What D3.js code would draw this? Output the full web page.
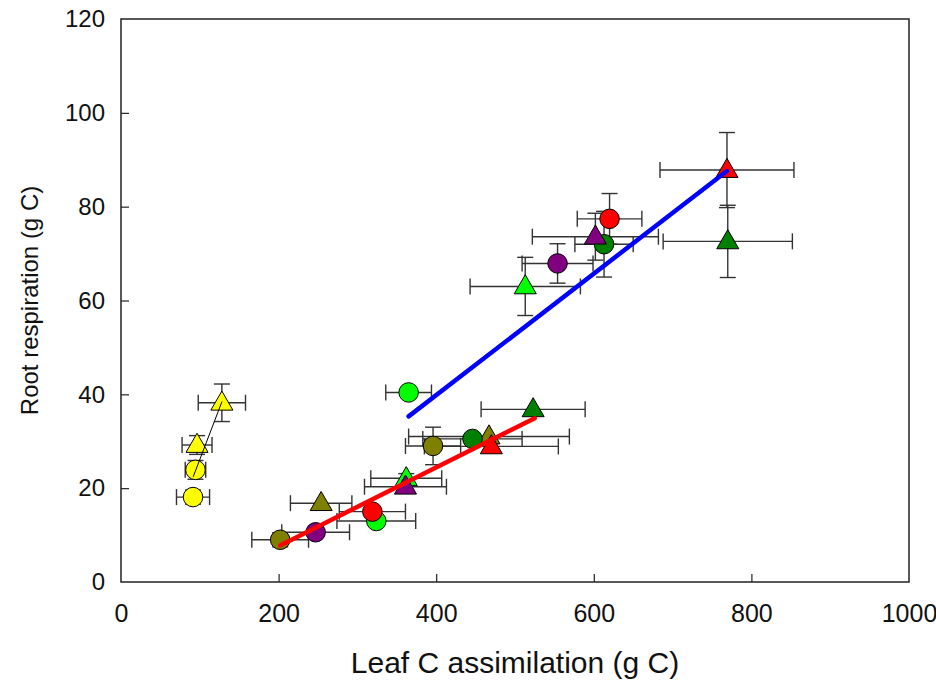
<!DOCTYPE html>
<html>
<head>
<meta charset="utf-8">
<script src="https://cdn.jsdelivr.net/npm/d3@7"></script>
<style>
  body { margin: 0; background: #fff; }
  svg { display: block; font-family: "Liberation Sans", Arial, sans-serif; }
</style>
</head>
<body>
<div class="chart-container"></div>
<script>
// series: name, colour
const seriesNames = ["yellow", "olive", "lime", "green", "purple", "red"];
const seriesColors = ["#ffff00", "#808000", "#00ff00", "#008000", "#800080", "#ff0000"];

// circles per series (x, y, x error, y error)
const circX  = [[91.4, 94.5], [202, 396], [365, 324], [446, 613], [247, 554], [319, 620]];
const circY  = [[18.1, 23.9], [9.0, 29.0], [40.4, 13.0], [30.5, 72.0], [10.6, 67.9], [15.0, 77.4]];
const circXe = [[21, 13], [36, 35], [29, 50], [63, 37], [43, 45], [42, 41]];
const circYe = [[1.5, 2], [1.5, 4], [0, 0], [0, 7], [0.5, 4.2], [0, 5.4]];

// triangles per series
const triX  = [[96.5, 128], [254, 467], [362, 513], [523, 770], [361, 602], [470, 769]];
const triY  = [[29.2, 38.2], [16.8, 31.0], [22.1, 63.0], [36.8, 72.6], [20.3, 73.6], [28.9, 87.8]];
const triXe = [[19, 30], [39, 102], [45, 70], [66, 82], [52, 80], [85, 85]];
const triYe = [[2, 4], [0, 0], [1, 6.2], [0, 7.7], [0, 5], [0, 8]];

// regression lines
const fitColors = ["#000000", "#0000ff", "#ff0000"];
const fitWidths = [1, 4.5, 4.5];
const fitX = [[91.8, 128], [365, 769], [202, 525]];
const fitY = [[22.5, 38.4], [35.3, 87.6], [7.8, 34.9]];

const xTicks = [0, 200, 400, 600, 800, 1000];
const yTicks = [0, 20, 40, 60, 80, 100, 120];

function draw() {
    const width = 936;
    const height = 683;
    const margin = { left: 121, right: 27, top: 19, bottom: 101 };

    const x = d3.scaleLinear().domain([0, 1000]).range([margin.left, width - margin.right]);
    const y = d3.scaleLinear().domain([0, 120]).range([height - margin.bottom, margin.top]);

    const svg = d3.select('.chart-container').append("svg")
        .attr("width", width)
        .attr("height", height);

    // frame
    svg.append("rect")
        .attr("x", x(0)).attr("y", y(120))
        .attr("width", x(1000) - x(0)).attr("height", y(0) - y(120))
        .attr("fill", "none").attr("stroke", "#222").attr("stroke-width", 1.5);

    const xAxis = svg.append("g")
        .attr("transform", `translate(0,${y(0)})`)
        .call(d3.axisBottom(x).tickValues(xTicks).tickFormat(d3.format("d"))
            .tickSizeInner(-8).tickSizeOuter(0).tickPadding(22));
    const yAxis = svg.append("g")
        .attr("transform", `translate(${x(0)},0)`)
        .call(d3.axisLeft(y).tickValues(yTicks).tickFormat(d3.format("d"))
            .tickSizeInner(-8).tickSizeOuter(0).tickPadding(16));
    [xAxis, yAxis].forEach(g => {
        g.select(".domain").remove();
        g.selectAll("line").attr("stroke", "#222").attr("stroke-width", 1.2);
        g.selectAll("text").attr("fill", "#111")
            .attr("font-family", "Liberation Sans, Arial, sans-serif");
    });
    xAxis.selectAll("text").attr("font-size", 25);
    yAxis.selectAll("text").attr("font-size", 24);
    // end ticks sit on the frame
    xAxis.selectAll(".tick").filter(d => d === 0 || d === 1000).select("line").remove();
    yAxis.selectAll(".tick").filter(d => d === 0 || d === 120).select("line").remove();

    svg.append("text")
        .attr("x", (x(0) + x(1000)) / 2).attr("y", 673)
        .attr("text-anchor", "middle").attr("font-size", 30).attr("fill", "#111")
        .text("Leaf C assimilation (g C)");
    svg.append("text")
        .attr("transform", `translate(38,${(y(0) + y(120)) / 2}) rotate(-90)`)
        .attr("text-anchor", "middle").attr("font-size", 24).attr("fill", "#111")
        .text("Root respiration (g C)");

    // flatten points
    const pts = [];
    seriesNames.forEach((name, i) => {
        circX[i].forEach((v, j) => pts.push({ name, color: seriesColors[i], shape: "circle",
            x: v, y: circY[i][j], xe: circXe[i][j], ye: circYe[i][j] }));
        triX[i].forEach((v, j) => pts.push({ name, color: seriesColors[i], shape: "triangle",
            x: v, y: triY[i][j], xe: triXe[i][j], ye: triYe[i][j] }));
    });

    const cap = 8;
    const err = svg.append("g").attr("stroke", "#333").attr("stroke-width", 1.4).attr("fill", "none");
    pts.forEach(p => {
        const g = err.append("g");
        if (p.xe > 0) {
            g.append("line").attr("x1", x(p.x - p.xe)).attr("x2", x(p.x + p.xe)).attr("y1", y(p.y)).attr("y2", y(p.y));
            [p.x - p.xe, p.x + p.xe].forEach(v => g.append("line")
                .attr("x1", x(v)).attr("x2", x(v)).attr("y1", y(p.y) - cap).attr("y2", y(p.y) + cap));
        }
        if (p.ye > 0) {
            g.append("line").attr("x1", x(p.x)).attr("x2", x(p.x)).attr("y1", y(p.y - p.ye)).attr("y2", y(p.y + p.ye));
            [p.y - p.ye, p.y + p.ye].forEach(v => g.append("line")
                .attr("x1", x(p.x) - cap).attr("x2", x(p.x) + cap).attr("y1", y(v)).attr("y2", y(v)));
        }
    });

    const sym = d3.symbol().type(d => d.shape === "circle" ? d3.symbolCircle : d3.symbolTriangle)
        .size(d => d.shape === "circle" ? 300 : 210);
    svg.append("g").selectAll("path")
        .data(pts)
        .join("path")
        .attr("transform", d => `translate(${x(d.x)},${y(d.y) + (d.shape === "triangle" ? 1 : 0)})`)
        .attr("d", sym)
        .attr("fill", d => d.color)
        .attr("stroke", "#000")
        .attr("stroke-width", 1);

    svg.append("g").selectAll("line")
        .data(fitX)
        .join("line")
        .attr("x1", d => x(d[0])).attr("x2", d => x(d[1]))
        .attr("y1", (d, i) => y(fitY[i][0])).attr("y2", (d, i) => y(fitY[i][1]))
        .attr("stroke", (d, i) => fitColors[i])
        .attr("stroke-width", (d, i) => fitWidths[i])
        .attr("stroke-linecap", "round");
}

draw();
</script>
</body>
</html>
